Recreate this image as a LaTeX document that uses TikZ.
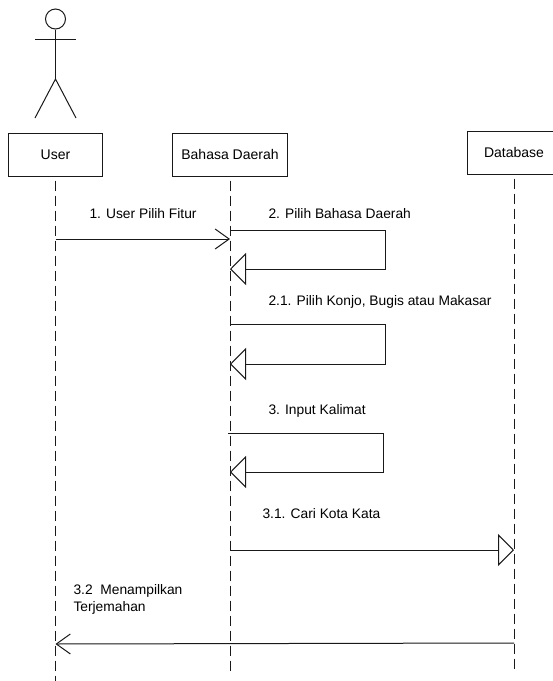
\documentclass[tikz,border=0pt]{standalone}
\usepackage{fontspec}
\setmainfont{Liberation Sans}
\usepackage{tikz}
\usetikzlibrary{arrows.meta, positioning}

\begin{document}
\begin{tikzpicture}[
    x=1pt, y=-1pt,
    line width=1pt,
    draw=black!90,
    objbox/.style={draw, fill=white, minimum height=43pt, inner sep=0pt, font=\fontsize{14}{17}\selectfont},
    lifeline/.style={dash pattern=on 10pt off 5pt, dash phase=11pt},
    msglabel/.style={anchor=west, inner sep=0pt, align=left, font=\fontsize{13.8}{17}\selectfont},
    callmsg/.style={-{Straight Barb[length=14pt, width=20pt, line width=1pt]}},
    selfmsg/.style={-{Triangle[open, length=16pt, width=32pt, line width=1pt, fill=white]}}
]
    \useasboundingbox (0,0) rectangle (553,681);

    % Actor
    \node[draw, circle, minimum size=20pt, inner sep=0pt] (head) at (55.5,19) {};
    \coordinate (hip) at (55.5,79);
    \coordinate (armL) at (35,39);
    \coordinate (armR) at (76,39);
    \coordinate (legL) at (35,118);
    \coordinate (legR) at (76,118);
    \draw (head) -- (hip);
    \draw (armL) -- (armR);
    \draw (legL) -- (hip) -- (legR);

    % Objects
    \node[objbox, minimum width=94pt] (user) at (55.5,154.5) {User};
    \node[objbox, minimum width=115pt] (bahasa) at (230,154.5) {Bahasa Daerah};
    \node[objbox, minimum width=94pt] (database) at (514,152.5) {Database};

    % Lifelines
    \coordinate (userEnd) at (55.5,681);
    \coordinate (bahasaEnd) at (230,675);
    \coordinate (databaseEnd) at (514,672);
    \draw[lifeline] (user) -- (userEnd);
    \draw[lifeline] (bahasa) -- (bahasaEnd);
    \draw[lifeline] (database) -- (databaseEnd);

    % Messages
    \coordinate (m1a) at (55.5,239);
    \coordinate (m1b) at (230,239);
    \draw[callmsg] (m1a) -- (m1b);
    \node[msglabel] (l1) at (89,213.5) {1. User Pilih Fitur};

    \coordinate (m2a) at (230,230);
    \coordinate (m2b) at (230,269);
    \draw[selfmsg] (m2a) -- (385,230) -- (385,269) -- (m2b);
    \node[msglabel] (l2) at (268,213.5) {2. Pilih Bahasa Daerah};

    \coordinate (m21a) at (230,324);
    \coordinate (m21b) at (230,364);
    \draw[selfmsg] (m21a) -- (385,324) -- (385,364) -- (m21b);
    \node[msglabel] (l21) at (268,301.5) {2.1. Pilih Konjo, Bugis atau Makasar};

    \coordinate (m3a) at (228,433);
    \coordinate (m3b) at (230,472);
    \draw[selfmsg] (m3a) -- (383,433) -- (383,472) -- (m3b);
    \node[msglabel] (l3) at (268,410.5) {3. Input Kalimat};

    \coordinate (m31a) at (230,550);
    \coordinate (m31b) at (514,550);
    \draw[selfmsg] (m31a) -- (m31b);
    \node[msglabel] (l31) at (262,513.5) {3.1. Cari Kota Kata};

    \coordinate (m32a) at (514,643);
    \coordinate (m32b) at (55.5,644);
    \draw[callmsg] (m32a) -- (m32b);
    \node[msglabel] (l32) at (73,599.5) {3.2\ \ Menampilkan\\Terjemahan};
\end{tikzpicture}
\end{document}
